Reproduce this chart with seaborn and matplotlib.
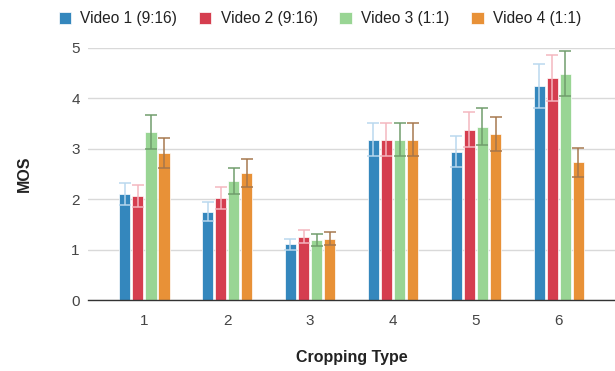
import matplotlib.pyplot as plt
import seaborn as sns
import pandas as pd

cropping = ["1", "2", "3", "4", "5", "6"]
videos = ["Video 1 (9:16)", "Video 2 (9:16)", "Video 3 (1:1)", "Video 4 (1:1)"]
mos_v1 = [2.10, 1.75, 1.11, 3.18, 2.94, 4.25]
mos_v2 = [2.06, 2.02, 1.26, 3.18, 3.38, 4.40]
mos_v3 = [3.33, 2.36, 1.19, 3.18, 3.44, 4.49]
mos_v4 = [2.91, 2.52, 1.22, 3.18, 3.29, 2.73]
err_v1 = [0.22, 0.19, 0.11, 0.33, 0.31, 0.44]
err_v2 = [0.22, 0.22, 0.13, 0.33, 0.34, 0.46]
err_v3 = [0.34, 0.26, 0.12, 0.33, 0.36, 0.45]
err_v4 = [0.30, 0.27, 0.13, 0.33, 0.34, 0.29]

colors = ["#3487bd", "#d53e4f", "#99d594", "#e89137"]
err_colors = ["#b9d8ee", "#f4b6bf", "#6f9c6b", "#a5764c"]

sns.set_style("whitegrid")
plt.rcParams['font.family'] = ['Liberation Sans', 'DejaVu Sans']

df = pd.DataFrame()
for name, vals, errs in zip(videos, [mos_v1, mos_v2, mos_v3, mos_v4],
                            [err_v1, err_v2, err_v3, err_v4]):
    part = pd.DataFrame({"Cropping Type": cropping, "MOS": vals, "err": errs, "Video": name})
    df = pd.concat([df, part], ignore_index=True)

fig = plt.figure(figsize=(6.15, 3.71), dpi=100)
ax = fig.add_axes([0.1431, 0.191, 0.857, 0.680])
sns.barplot(data=df, x="Cropping Type", y="MOS", hue="Video", palette=colors,
            saturation=1, width=0.63, gap=0.12, errorbar=None, edgecolor="white",
            linewidth=0.5, ax=ax, legend=True)

# error bars placed on the bars seaborn drew
for cont, name, ec in zip(ax.containers, videos, err_colors):
    errs = df[df["Video"] == name]["err"].tolist()
    xs = [b.get_x() + b.get_width() / 2 for b in cont]
    ys = [b.get_height() for b in cont]
    ax.errorbar(xs, ys, yerr=errs, fmt="none", ecolor=ec, elinewidth=1.2,
                capsize=4, capthick=1.2, alpha=0.9, zorder=3)

ax.set_ylim(0, 5)
ax.set_xlim(-0.678, 5.678)
ax.set_yticks([0, 1, 2, 3, 4, 5])
ax.grid(axis="y", color="#d9d9d9", linewidth=1)
ax.grid(axis="x", visible=False)
for s in ["left", "right", "top"]:
    ax.spines[s].set_visible(False)
ax.spines["bottom"].set_color("#333333")
ax.spines["bottom"].set_linewidth(1)
ax.tick_params(axis="both", length=0, labelsize=11, colors="#444444")
ax.tick_params(axis="y", pad=6)
ax.tick_params(axis="x", pad=10)
ax.set_xlabel("Cropping Type", fontsize=11.5, fontweight="bold", color="#222222", labelpad=16)
ax.set_ylabel("MOS", fontsize=11.5, fontweight="bold", color="#222222", labelpad=28)

ax.legend(loc="lower center", bbox_to_anchor=(0.44, 1.03), ncol=4, frameon=False,
          fontsize=11.2, handlelength=0.8, handleheight=0.8, handletextpad=0.6,
          columnspacing=1.4, labelcolor="#222222")

plt.savefig("out.png", dpi=100)
